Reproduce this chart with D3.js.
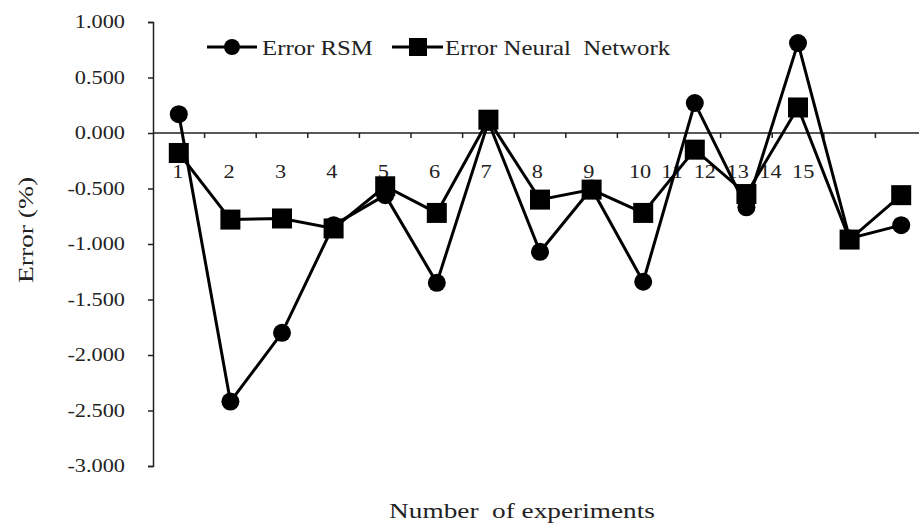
<!DOCTYPE html>
<html>
<head>
<meta charset="utf-8">
<script src="https://cdn.jsdelivr.net/npm/d3@7"></script>
<style>
  body { margin: 0; background: #fff; }
  text { font-family: "Liberation Serif", "Times New Roman", serif; fill: #222; }
</style>
</head>
<body>
<div id="chart"></div>
<script>
var experiments = ["1", "2", "3", "4", "5", "6", "7", "8", "9", "10", "11", "12", "13", "14", "15"];
var errorRSM = [0.17, -2.42, -1.80, -0.83, -0.56, -1.35, 0.10, -1.07, -0.50, -1.34, 0.27, -0.67, 0.81, -0.95, -0.83];
var errorNN  = [-0.18, -0.78, -0.77, -0.86, -0.48, -0.72, 0.12, -0.60, -0.51, -0.72, -0.15, -0.55, 0.23, -0.96, -0.56];
var yTicks = [-3, -2.5, -2, -1.5, -1, -0.5, 0, 0.5, 1];

var width = 919, height = 526;
var sx = 1.24; // the picture's text is stretched sideways

var svg = d3.select("#chart").append("svg")
    .attr("width", width)
    .attr("height", height);

var x = d3.scaleBand()
    .domain(experiments)
    .range([153, 153 + 15 * 51.6])
    .padding(0);
var y = d3.scaleLinear().domain([-3, 1]).range([466, 22]);
var bw = x.bandwidth();
var cx = function (i) { return x(experiments[i]) + bw / 2; };

// y axis
var yAxis = svg.append("g")
    .attr("transform", "translate(153,0)")
    .call(d3.axisLeft(y).tickValues(yTicks).tickSize(5)
        .tickFormat(function (d) { return d3.format(".3f")(d).replace("\u2212", "-"); }));
yAxis.select(".domain").attr("stroke", "#222").attr("stroke-width", 1.5);
yAxis.selectAll(".tick line").attr("stroke", "#222").attr("stroke-width", 1.5);
yAxis.selectAll(".tick text")
    .attr("x", -28 / sx)
    .attr("transform", "scale(" + sx + ",1)")
    .style("font-size", "18px");

// x axis along zero
svg.append("line")
    .attr("x1", 153).attr("x2", width)
    .attr("y1", y(0)).attr("y2", y(0))
    .attr("stroke", "#222").attr("stroke-width", 1.5);
svg.selectAll(".xtick")
    .data(experiments.slice(1))
    .enter().append("line")
    .attr("x1", function (d) { return x(d); })
    .attr("x2", function (d) { return x(d); })
    .attr("y1", y(0)).attr("y2", y(0) + 5)
    .attr("stroke", "#222").attr("stroke-width", 1.5);

// category labels (11-15 squeezed together as in the picture)
var labelPos = d3.scaleLinear().domain([0, 9, 10, 14]).range([0.48, 9.44, 10.06, 12.6]);
svg.selectAll(".xlab")
    .data(experiments)
    .enter().append("text")
    .attr("transform", function (d, i) {
        return "translate(" + (153 + labelPos(i) * bw) + "," + 178 + ") scale(" + sx + ",1)";
    })
    .attr("text-anchor", "middle")
    .style("font-size", "18px")
    .text(function (d) { return d; });

// lines
var line = d3.line()
    .x(function (d, i) { return cx(i); })
    .y(function (d) { return y(d); });

svg.append("path").datum(errorRSM)
    .attr("d", line).attr("fill", "none")
    .attr("stroke", "#000").attr("stroke-width", 3);
svg.append("path").datum(errorNN)
    .attr("d", line).attr("fill", "none")
    .attr("stroke", "#000").attr("stroke-width", 3);

svg.selectAll(".rsm")
    .data(errorRSM)
    .enter().append("circle")
    .attr("cx", function (d, i) { return cx(i); })
    .attr("cy", function (d) { return y(d); })
    .attr("r", 9)
    .attr("fill", "#000");

svg.selectAll(".nn")
    .data(errorNN)
    .enter().append("rect")
    .attr("x", function (d, i) { return cx(i) - 10; })
    .attr("y", function (d) { return y(d) - 10; })
    .attr("width", 20).attr("height", 20)
    .attr("fill", "#000");

// legend
var lg = svg.append("g");
lg.append("line").attr("x1", 207).attr("x2", 257).attr("y1", 47).attr("y2", 47)
    .attr("stroke", "#000").attr("stroke-width", 3);
lg.append("circle").attr("cx", 232).attr("cy", 47).attr("r", 8).attr("fill", "#000");
lg.append("text")
    .attr("transform", "translate(262,55) scale(" + sx + ",1)")
    .style("font-size", "20px")
    .text("Error RSM");

lg.append("line").attr("x1", 392).attr("x2", 443).attr("y1", 47).attr("y2", 47)
    .attr("stroke", "#000").attr("stroke-width", 3);
lg.append("rect").attr("x", 409).attr("y", 38).attr("width", 18).attr("height", 18).attr("fill", "#000");
lg.append("text")
    .attr("transform", "translate(445,55) scale(" + sx + ",1)")
    .style("font-size", "20px")
    .attr("xml:space", "preserve")
    .text("Error Neural  Network");

// axis titles
svg.append("text")
    .attr("transform", "translate(522,518) scale(" + sx + ",1)")
    .attr("text-anchor", "middle")
    .style("font-size", "22px")
    .attr("xml:space", "preserve")
    .text("Number  of experiments");

svg.append("text")
    .attr("transform", "translate(33,283) rotate(-90) scale(1.25,1)")
    .style("font-size", "22px")
    .text("Error (%)");
</script>
</body>
</html>
